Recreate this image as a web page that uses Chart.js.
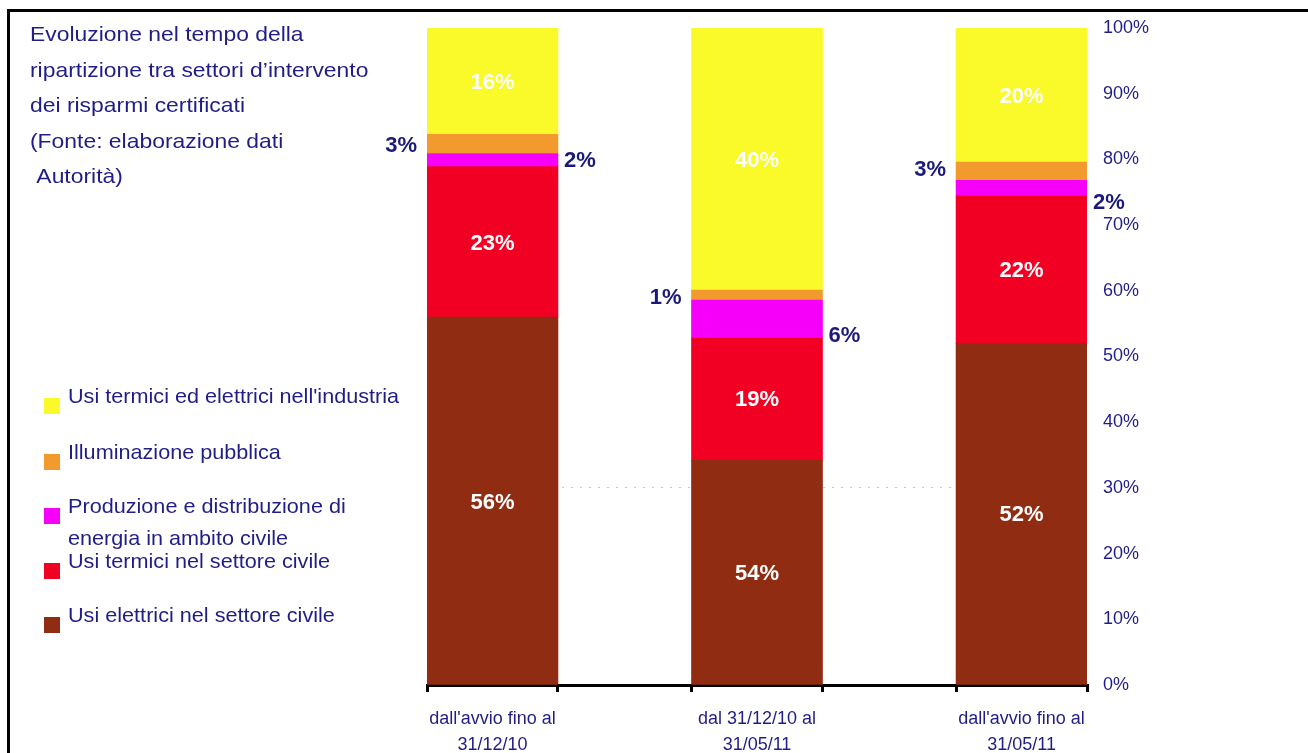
<!DOCTYPE html>
<html>
<head>
<meta charset="utf-8">
<script src="https://cdn.jsdelivr.net/npm/chart.js@4/dist/chart.umd.min.js"></script>
<style>
  html,body{margin:0;padding:0;background:#fff;}
  body{width:1308px;height:753px;position:relative;overflow:hidden;font-family:"Liberation Sans",Arial,sans-serif;color:#201d87;}
  #chart{position:absolute;left:0;top:0;}
  .frame{position:absolute;left:7px;top:9px;width:1400px;height:800px;border-top:3px solid #000;border-left:3px solid #000;}
  .title{position:absolute;left:30px;top:16px;font-size:21px;line-height:35.5px;white-space:nowrap;transform:scaleX(1.09);transform-origin:left top;}
  .leg{position:absolute;left:68px;font-size:21px;line-height:32px;white-space:nowrap;transform:scaleX(1.03);transform-origin:left top;}
  .sw{position:absolute;left:44px;width:16px;height:16px;}
</style>
</head>
<body>
<canvas id="chart" width="1308" height="753"></canvas>
<div class="frame"></div>
<div class="title">Evoluzione nel tempo della<br>ripartizione tra settori d’intervento<br>dei risparmi certificati<br>(Fonte: elaborazione dati<br>&nbsp;Autorità)</div>
<div id="legend"></div>
<script>
// categories (x) and the y ticks
const categories = [["dall'avvio fino al", '31/12/10'], ['dal 31/12/10 al', '31/05/11'], ["dall'avvio fino al", '31/05/11']];
const yTicks = [0, 10, 20, 30, 40, 50, 60, 70, 80, 90, 100];

// series, bottom to top (share of each bar, %)
const seriesNames = ['Usi elettrici nel settore civile', 'Usi termici nel settore civile', 'Produzione e distribuzione di\nenergia in ambito civile', 'Illuminazione pubblica', "Usi termici ed elettrici nell'industria"];
const elettriciCivile = [56, 34.2, 52];
const termiciCivile = [22.9, 18.6, 22.5];
const produzione = [2.0, 5.8, 2.3];
const illuminazione = [2.9, 1.5, 2.8];
const industria = [16.2, 39.9, 20.4];

// labels as printed on the chart
const lblElettrici = ['56%', '54%', '52%'];
const lblTermici = ['23%', '19%', '22%'];
const lblProduzione = ['2%', '6%', '2%'];
const lblIlluminazione = ['3%', '1%', '3%'];
const lblIndustria = ['16%', '40%', '20%'];

const colors = ['#902c12', '#f20024', '#f700f9', '#f29a2e', '#fafa2a'];
const NAVY = '#201d87';
const HALF = 0.2474; // half bar width in category units

const values = [elettriciCivile, termiciCivile, produzione, illuminazione, industria];
const printed = [lblElettrici, lblTermici, lblProduzione, lblIlluminazione, lblIndustria];
// where each series' label sits: inside, left or right of the bar, with small vertical nudges
const place = ['in', 'in', 'right', 'left', 'in'];
const nudge = [[2,2,1],[2,1,1],[1,17,15],[2,3,-1],[2,2,2]];

// legend (top to bottom = reverse of stack)
const legTops = [380, 436, 490, 545, 599];
const legEl = document.getElementById('legend');
[4,3,2,1,0].forEach((s, k) => {
  const sw = document.createElement('div');
  sw.className = 'sw';
  sw.style.top = (legTops[k] + 18) + 'px';
  sw.style.background = colors[s];
  legEl.appendChild(sw);
  const t = document.createElement('div');
  t.className = 'leg';
  t.style.top = legTops[k] + 'px';
  t.innerHTML = seriesNames[s].replace('\n', '<br>');
  legEl.appendChild(t);
});

const barLabels = {
  id: 'barLabels',
  afterDatasetsDraw(chart) {
    const ctx = chart.ctx;
    ctx.save();
    values.forEach((v, i) => {
      const meta = chart.getDatasetMeta(i);
      meta.data.forEach((el, j) => {
        const cy = (el.y + el.base) / 2 + nudge[i][j];
        ctx.font = 'bold 22px "Liberation Sans", Arial, sans-serif';
        ctx.textBaseline = 'middle';
        if (place[i] === 'in') {
          ctx.fillStyle = '#fff';
          ctx.textAlign = 'center';
          ctx.fillText(printed[i][j], el.x, cy);
        } else if (place[i] === 'left') {
          ctx.fillStyle = '#1b1a7a';
          ctx.textAlign = 'right';
          ctx.fillText(printed[i][j], el.x - el.width / 2 - 10, cy);
        } else {
          ctx.fillStyle = '#1b1a7a';
          ctx.textAlign = 'left';
          ctx.fillText(printed[i][j], el.x + el.width / 2 + 6, cy);
        }
      });
    });
    ctx.restore();
  }
};

const isCenter = v => Math.abs(v - Math.round(v)) < 1e-6;

new Chart(document.getElementById('chart'), {
  type: 'bar',
  data: {
    labels: categories.map((c, i) => i),
    datasets: values.map((v, i) => ({
      label: seriesNames[i],
      data: v,
      backgroundColor: colors[i],
      borderWidth: 0,
      barThickness: 131
    }))
  },
  options: {
    responsive: false,
    animation: false,
    layout: { padding: { left: 427, right: 151, top: 28, bottom: 0 } },
    plugins: { legend: { display: false }, tooltip: { enabled: false } },
    scales: {
      x: {
        type: 'linear',
        stacked: true,
        offset: false,
        min: -HALF,
        max: categories.length - 1 + HALF,
        afterBuildTicks: (s) => {
          const t = [];
          categories.forEach((c, i) => { t.push({ value: i - HALF }, { value: i }, { value: i + HALF }); });
          s.ticks = t;
        },
        afterFit: (s) => { s.height = 68; },
        ticks: {
          autoSkip: false, maxRotation: 0, minRotation: 0,
          color: NAVY, padding: 14,
          font: { family: '"Liberation Sans", Arial, sans-serif', size: 18, lineHeight: 1.45 },
          callback: (v) => isCenter(v) ? categories[Math.round(v)] : ''
        },
        grid: {
          offset: false,
          drawOnChartArea: false, drawTicks: true, tickLength: 7, lineWidth: 3,
          color: (c) => (c.tick && isCenter(c.tick.value)) ? 'rgba(0,0,0,0)' : '#000'
        },
        border: { display: true, color: '#000', width: 3 }
      },
      y: {
        position: 'right',
        stacked: true,
        min: 0, max: 100,
        afterBuildTicks: (s) => { s.ticks = yTicks.map(v => ({ value: v })); },
        afterFit: (s) => { s.width = 70; },
        ticks: {
          color: NAVY, padding: 16,
          font: { family: '"Liberation Sans", Arial, sans-serif', size: 18 },
          callback: (v) => v + '%'
        },
        grid: {
          drawTicks: false, lineWidth: 1,
          color: (c) => (c.tick && c.tick.value === 30) ? '#c8c8c8' : 'rgba(0,0,0,0)'
        },
        border: { display: false, dash: [2, 7] }
      }
    }
  },
  plugins: [barLabels]
});
</script>
</body>
</html>
